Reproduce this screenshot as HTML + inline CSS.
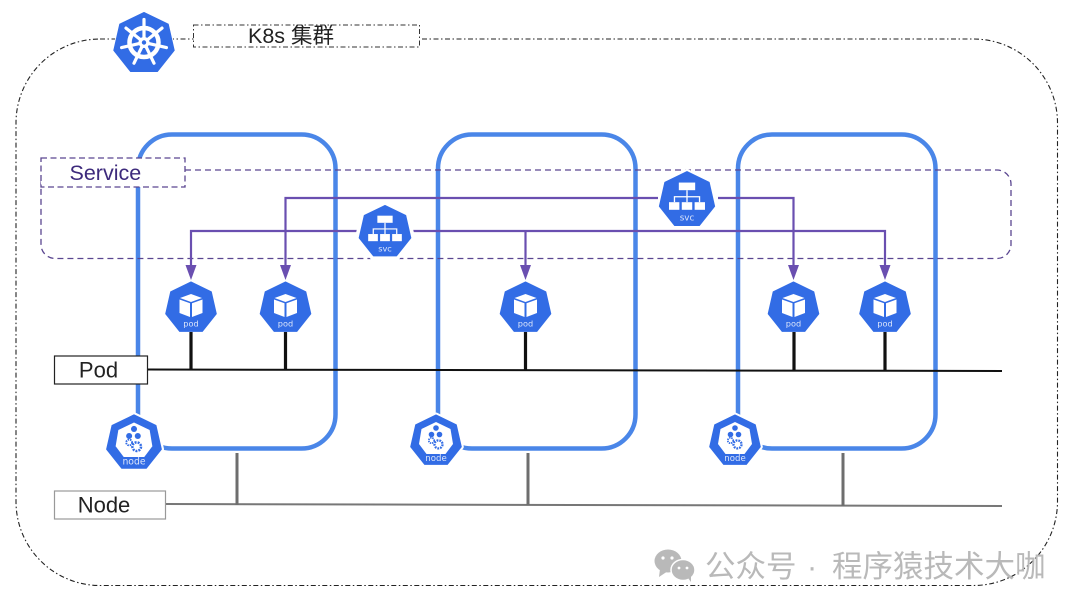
<!DOCTYPE html>
<html><head><meta charset="utf-8">
<style>
html,body{margin:0;padding:0;background:#fff;width:1080px;height:609px;overflow:hidden}
svg{display:block}
text{font-family:"Liberation Sans","Noto Sans CJK SC",sans-serif}
text.ic{font-family:"DejaVu Sans",sans-serif}
</style></head><body>
<svg width="1080" height="609" viewBox="0 0 1080 609" xmlns="http://www.w3.org/2000/svg">
<defs>
<path id="hep" d="M0,-26 L20.3,-16.2 L25.3,5.8 L11.3,23.4 L-11.3,23.4 L-25.3,5.8 L-20.3,-16.2 Z" stroke-linejoin="round"/>
<g id="pod">
<use href="#hep" fill="#326ce5" stroke="#326ce5" stroke-width="1"/>
<path d="M0,-14 L11,-10 L0,-6 L-11,-10 Z" fill="#fff"/>
<path d="M-11.500,-8.500 L-1,-4.700 L-1,9 L-11.500,5 Z" fill="#fff"/>
<path d="M11.500,-8.500 L1,-4.700 L1,9 L11.500,5 Z" fill="#fff"/>
<text class="ic" x="0" y="18.500" font-size="8.200" fill="#dbe5fb" text-anchor="middle">pod</text>
</g>
<g id="svc">
<use href="#hep" fill="#326ce5" stroke="#326ce5" stroke-width="1"/>
<rect x="-7.500" y="-16" width="15" height="7" fill="#fff"/>
<rect x="-16.500" y="2" width="9.500" height="7" fill="#fff"/>
<rect x="-4.800" y="2" width="9.600" height="7" fill="#fff"/>
<rect x="7" y="2" width="9.500" height="7" fill="#fff"/>
<path d="M0,-9 V2 M-11.500,2 V-3 H11.500 V2" fill="none" stroke="#fff" stroke-width="1.200"/>
<text class="ic" x="0" y="19" font-size="8" fill="#dbe5fb" text-anchor="middle">svc</text>
</g>
<g id="node">
<use href="#hep" fill="#326ce5" stroke="#326ce5" stroke-width="1"/>
<path d="M0,-19 L14.500,-12 L17,3 L9.500,13 L-9.500,13 L-17,3 L-14.500,-12 Z" fill="#fff"/>
<circle cx="0" cy="-13" r="2.800" fill="#326ce5"/>
<circle cx="-4.500" cy="-6.500" r="2.800" fill="#326ce5"/>
<circle cx="3.500" cy="-6.500" r="2.800" fill="#326ce5"/>
<circle cx="-4.500" cy="-0.500" r="2.700" fill="none" stroke="#326ce5" stroke-width="1.700" stroke-dasharray="1.400 .8"/>
<circle cx="2.500" cy="3.400" r="4" fill="none" stroke="#326ce5" stroke-width="2.300" stroke-dasharray="1.800 1"/>
<text class="ic" x="0" y="19.800" font-size="8.600" fill="#dbe5fb" text-anchor="middle">node</text>
</g>
</defs>

<!-- outer cluster -->
<rect x="16" y="39" width="1041.500" height="546.500" rx="84" ry="84" fill="none" stroke="#222" stroke-width="1.100" stroke-dasharray="5 2.500 1.500 2.500"/>

<!-- node boxes -->
<g fill="none" stroke="#4a86e8" stroke-width="4.500">
<rect x="138" y="134.500" width="197.500" height="314" rx="34"/>
<rect x="438" y="134.500" width="197.500" height="314" rx="34"/>
<rect x="738" y="134.500" width="197.500" height="314" rx="34"/>
</g>

<!-- service dashed region -->
<rect x="41" y="170" width="970" height="88.500" rx="14" fill="none" stroke="#5a4690" stroke-width="1.300" stroke-dasharray="6 4"/>
<rect x="41" y="158" width="144" height="29" fill="#fff" stroke="#5a4690" stroke-width="1.300" stroke-dasharray="6 3.500"/>
<text x="69.500" y="180" font-size="21.500" fill="#3d2a7c">Service</text>

<!-- purple connectors -->
<g fill="none" stroke="#6a4fb0" stroke-width="2.200">
<path d="M658,198 H285.500 V268"/>
<path d="M718,198 H793.500 V268"/>
<path d="M357,231 H191 V268"/>
<path d="M412,231 H885 V268"/>
<path d="M525.500,232 V268"/>
</g>
<g fill="#6a4fb0">
<path d="M185.500,265 H196.500 L191,280 Z"/>
<path d="M280,265 H291 L285.500,280 Z"/>
<path d="M520,265 H531 L525.500,280 Z"/>
<path d="M788,265 H799 L793.500,280 Z"/>
<path d="M879.500,265 H890.500 L885,280 Z"/>
</g>

<!-- pod network -->
<path d="M147,369.500 L1002,371" fill="none" stroke="#111" stroke-width="2"/>
<g stroke="#111" stroke-width="3.200">
<path d="M191,332 V370 M285.500,332 V370 M525.500,332 V370 M794,332 V370 M885,332 V370"/>
</g>
<rect x="54.500" y="356" width="93" height="28" fill="#fff" stroke="#222" stroke-width="1.200"/>
<text x="98.500" y="377.500" font-size="22" fill="#222" text-anchor="middle">Pod</text>

<!-- node network -->
<path d="M166,504 L1002,506" fill="none" stroke="#777" stroke-width="2"/>
<g stroke="#6e6e6e" stroke-width="3">
<path d="M237,453 V505 M528,453 V505 M843,453 V506"/>
</g>
<rect x="54.500" y="491" width="111" height="28" fill="#fff" stroke="#999" stroke-width="1.200"/>
<text x="104" y="512.500" font-size="22" fill="#222" text-anchor="middle">Node</text>

<!-- pods -->
<use href="#pod" x="191" y="308"/>
<use href="#pod" x="285.500" y="308"/>
<use href="#pod" x="525.500" y="308"/>
<use href="#pod" x="793.500" y="308"/>
<use href="#pod" x="885" y="308"/>

<!-- svc -->
<use href="#hep" transform="translate(385,232) scale(1.150)" fill="#fff" stroke="#fff" stroke-width="2"/>
<g transform="translate(385,232) scale(1.020)"><use href="#svc"/></g>
<g transform="translate(687,200) scale(1.090)">
<use href="#hep" fill="#fff" stroke="#fff" stroke-width="5"/>
<use href="#svc"/>
</g>

<!-- node icons -->
<g transform="translate(134,443) scale(1.080)">
<use href="#hep" fill="#fff" stroke="#fff" stroke-width="5"/><use href="#node"/>
</g>
<g transform="translate(436,441)">
<use href="#hep" fill="#fff" stroke="#fff" stroke-width="5"/><use href="#node"/>
</g>
<g transform="translate(735,441)">
<use href="#hep" fill="#fff" stroke="#fff" stroke-width="5"/><use href="#node"/>
</g>

<!-- K8s title box -->
<rect x="193.500" y="25" width="226" height="22" fill="#fff" stroke="#333" stroke-width="1" stroke-dasharray="5 2.500 1.500 2.500"/>
<text x="248" y="43" font-size="21.500" fill="#222">K8s 集群</text>

<!-- K8s logo -->
<g transform="translate(144,43.500)">
<use href="#hep" transform="scale(1.200)" fill="#326ce5" stroke="#fff" stroke-width="2"/>
<use href="#hep" transform="scale(1.200)" fill="#326ce5" stroke="#326ce5" stroke-width=".6"/>
<g transform="translate(0,-1)">
<circle r="14.500" fill="none" stroke="#fff" stroke-width="4.500"/>
<circle r="5.500" fill="#fff"/>
<circle r="2.200" fill="#326ce5"/>
<g stroke="#fff" stroke-width="3.200" stroke-linecap="round">
<path d="M0,-5 V-23"/><path d="M3.900,-3.100 L18,-14.400"/><path d="M4.900,1.100 L22.400,5.100"/><path d="M2.200,4.500 L10,20.700"/><path d="M-2.200,4.500 L-10,20.700"/><path d="M-4.900,1.100 L-22.400,5.100"/><path d="M-3.900,-3.100 L-18,-14.400"/>
</g>
</g>
</g>

<!-- watermark -->
<g fill="#b9b9b9">
<ellipse cx="668" cy="561" rx="13.500" ry="11.500"/>
<path d="M660,569 L659,577 L668,571 Z"/>
<ellipse cx="683" cy="570" rx="12" ry="10.500" stroke="#fff" stroke-width="1.500"/>
<path d="M688,578 L691,582 L691,574 Z"/>
</g>
<g fill="#fff"><circle cx="663" cy="558" r="1.600"/><circle cx="672" cy="558" r="1.600"/><circle cx="679" cy="568" r="1.400"/><circle cx="687" cy="568" r="1.400"/></g>
<g font-size="30.500" fill="#b9b9b9">
<text x="705" y="577">公众号</text>
<text x="807" y="577">·</text>
<text x="832" y="577">程序猿技术大咖</text>
</g>
</svg>
</body></html>
